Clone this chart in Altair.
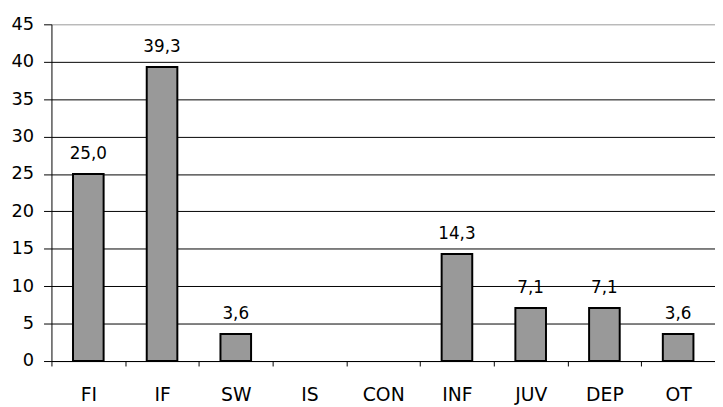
import altair as alt
import pandas as pd

categories = ["FI", "IF", "SW", "IS", "CON", "INF", "JUV", "DEP", "OT"]
values = [25.0, 39.3, 3.6, None, None, 14.3, 7.1, 7.1, 3.6]
y_ticks = [0, 5, 10, 15, 20, 25, 30, 35, 40, 45]

df = pd.DataFrame({"cat": categories, "v": values})

x = alt.X("cat:N", sort=categories, scale=alt.Scale(domain=categories, paddingInner=0, paddingOuter=0),
          axis=alt.Axis(title=None, labelAngle=0, labelFontSize=19, labelFont="DejaVu Sans",
                        labelColor="black", tickSize=5, tickColor="black", domainColor="black",
                        labelPadding=20, tickBand="extent", grid=False, labelOverlap=False))
y = alt.Y("v:Q", scale=alt.Scale(domain=[0, 45], nice=False),
          axis=alt.Axis(title=None, values=y_ticks, labelFontSize=18, labelOverlap=False,
                        labelFont="DejaVu Sans", labelColor="black", tickSize=8,
                        tickColor="black", domainColor="black", labelPadding=10,
                        gridColor={"condition": {"test": "datum.value === 45", "value": "#999999"}, "value": "black"},
                        gridOpacity=1, gridWidth=1))

base = alt.Chart(df)
bars = base.mark_bar(size=31, color="#999999", stroke="black", strokeWidth=2).encode(x=x, y=y)
labels = base.transform_filter("datum.v != null").transform_calculate(
    lbl="replace(format(datum.v, '.1f'), '.', ',')"
).mark_text(baseline="bottom", dy=-11, fontSize=17, font="DejaVu Sans", color="black").encode(
    x=x, y=y, text="lbl:N")

chart = (bars + labels).properties(
    width=672, height=341, autosize="none",
    padding={"left": 44, "top": 14, "right": 0, "bottom": 44},
).configure_view(stroke=None)

chart.save("out.html", embed_options={"renderer": "svg", "actions": False})
